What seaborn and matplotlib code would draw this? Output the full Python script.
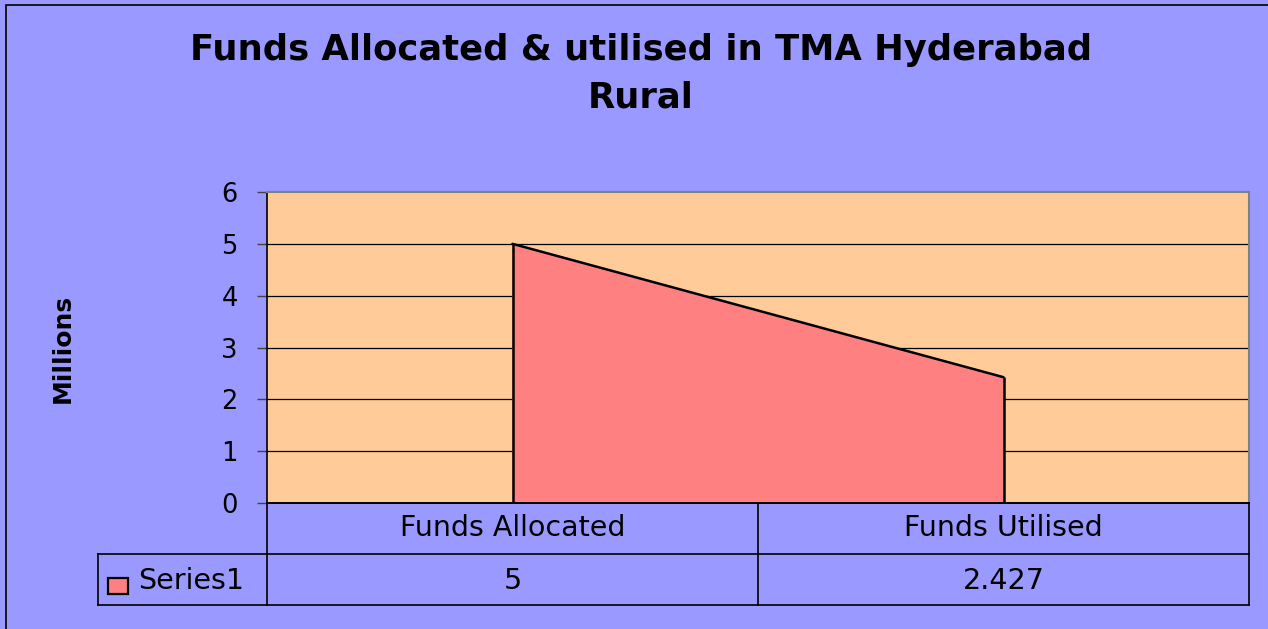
import numpy as np
import matplotlib
matplotlib.use("Agg")
import matplotlib.pyplot as plt
import seaborn as sns
import pandas as pd

# chart data
categories = ["Funds Allocated", "Funds Utilised"]
values = [5, 2.427]
value_labels = ["5", "2.427"]
series_name = "Series1"
yticks = [0, 1, 2, 3, 4, 5, 6]

bg = "#9999FF"
plot_bg = "#FFCC99"
area_col = "#FF8080"

sns.set_style("white")
plt.rcParams["font.family"] = ["DejaVu Sans"]
plt.rcParams["text.color"] = "black"
plt.rcParams["ytick.color"] = "black"

W, H = 1268, 629
fig = plt.figure(figsize=(W / 100, H / 100), dpi=100)
fig.patch.set_facecolor(bg)

def fbox(x0, y0, x1, y1):
    # pixel box (top-left origin) -> figure fraction rect
    return [x0 / W, 1 - y1 / H, (x1 - x0) / W, (y1 - y0) / H]

# outer frame (only left/top edges fall inside the image)
fig.add_artist(plt.Rectangle((6 / W, -0.1), 1.2, 1.1 - 5 / H,
                             transform=fig.transFigure, fill=False,
                             edgecolor="black", lw=1.2))

ax = fig.add_axes(fbox(267, 192, 1249, 503))
ax.set_facecolor(plot_bg)

df = pd.DataFrame({"pos": np.arange(len(categories)), "value": values})
ax.fill_between(df["pos"], df["value"], 0, color=area_col, zorder=2)
sns.lineplot(data=df, x="pos", y="value", color="black", lw=1.8, ax=ax, zorder=3)
ax.vlines(df["pos"], 0, df["value"], color="black", lw=1.8, zorder=3)

ax.set_xlim(-0.5, len(categories) - 0.5)
ax.set_ylim(0, 6)
ax.set_yticks(yticks)
ax.set_yticklabels([str(t) for t in yticks], fontsize=18.5)
ax.set_xticks([])
ax.set_xlabel("")
ax.set_ylabel("")
for t in yticks[1:-1]:
    ax.axhline(t, color="black", lw=0.9, zorder=1)
ax.tick_params(axis="y", direction="out", length=7, width=1, color="#444444", pad=14,
               left=True)
ax.spines["left"].set_color("black")
ax.spines["left"].set_linewidth(1.2)
for s in ["top", "right"]:
    ax.spines[s].set_color("#808080")
    ax.spines[s].set_linewidth(1.5)
ax.spines["bottom"].set_color("black")
ax.spines["bottom"].set_linewidth(1.4)

fig.text(63 / W, 1 - 348 / H, "Millions", rotation=90, ha="center", va="center",
         fontsize=18, fontweight="bold")

fig.text(641 / W, 1 - 50 / H, "Funds Allocated & utilised in TMA Hyderabad",
         ha="center", va="center", fontsize=25.5, fontweight="bold")
fig.text(641 / W, 1 - 98 / H, "Rural",
         ha="center", va="center", fontsize=25.5, fontweight="bold")

# data table below the axis
xl = -0.5 - (267 - 98) / (1249 - 267) * len(categories)
xr = len(categories) - 0.5
tab = fig.add_axes(fbox(98, 503, 1249, 605))
tab.set_xlim(xl, xr)
tab.set_ylim(0, 2)
tab.axis("off")
lc = dict(color="black", lw=1.2, clip_on=False, solid_capstyle="projecting")
tab.plot([xl, xr], [1, 1], **lc)
tab.plot([xl, xr], [0, 0], **lc)
tab.plot([xl, xl], [0, 1], **lc)
for b in np.arange(len(categories) + 1) - 0.5:
    tab.plot([b, b], [0, 2], **lc)
for i, (c, v) in enumerate(zip(categories, value_labels)):
    tab.text(i, 1.5, c, ha="center", va="center", fontsize=20.5)
    tab.text(i, 0.47, v, ha="center", va="center", fontsize=20.5)
px = (xr - xl) / (1249 - 98)
tab.add_patch(plt.Rectangle((xl + 10 * px, 2 * (605 - 594) / 102), 20 * px, 2 * 16 / 102,
                            facecolor=area_col, edgecolor="black", lw=1.6, clip_on=False))
tab.text(xl + 40 * px, 0.47, series_name, ha="left", va="center", fontsize=20.5)

fig.savefig("out.png", dpi=100, facecolor=bg)
